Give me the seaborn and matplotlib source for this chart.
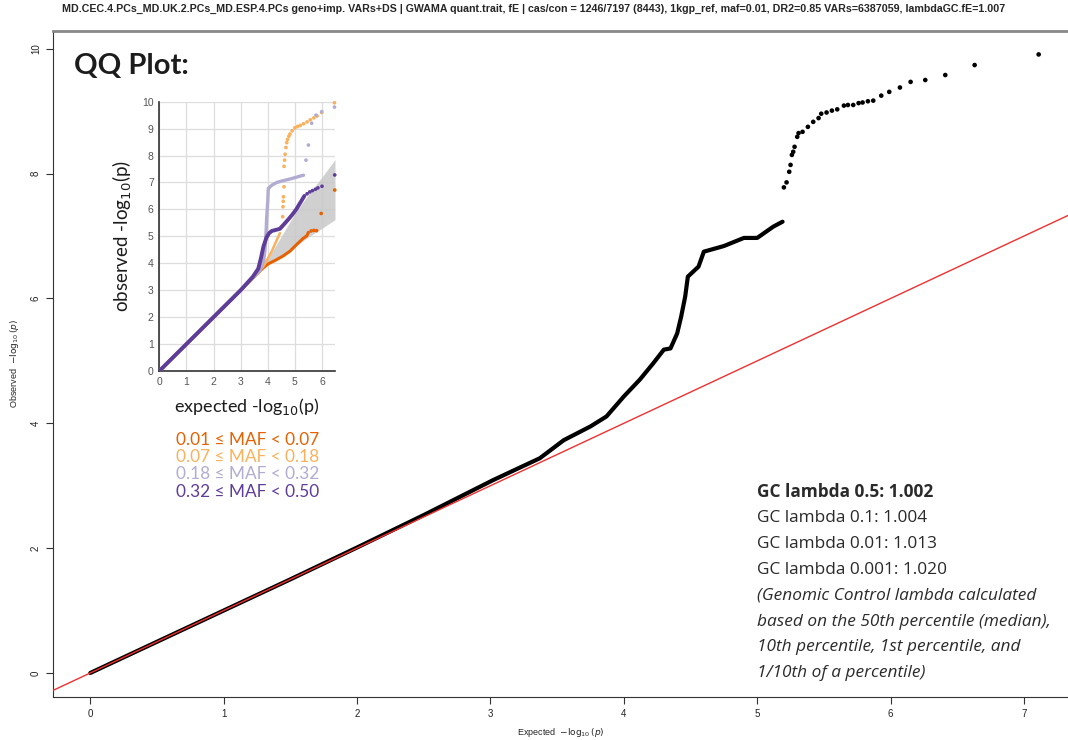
import matplotlib
matplotlib.use("Agg")
import matplotlib.pyplot as plt
import seaborn as sns
import pandas as pd

# main QQ data (expected vs observed -log10 p)
main_exp_dense = [0, 0.5, 1.0, 1.5, 2.0, 2.5, 3.02, 3.37, 3.55, 3.75, 3.87, 4.0, 4.12, 4.22, 4.30,
                  4.35, 4.40, 4.43, 4.46, 4.48, 4.56, 4.60, 4.75, 4.90, 5.0, 5.12, 5.19]
main_obs_dense = [0, 0.5, 1.0, 1.5, 2.01, 2.53, 3.09, 3.44, 3.73, 3.95, 4.11, 4.43, 4.70, 4.96, 5.18,
                  5.20, 5.44, 5.71, 6.03, 6.35, 6.51, 6.75, 6.84, 6.97, 6.97, 7.15, 7.23]
main_exp_tail = [5.20, 5.22, 5.24, 5.25, 5.26, 5.27, 5.28, 5.30, 5.31, 5.34, 5.38, 5.42, 5.46, 5.48,
                 5.52, 5.56, 5.60, 5.65, 5.68, 5.72, 5.76, 5.79, 5.83, 5.87, 5.93, 5.99, 6.07, 6.15,
                 6.26, 6.41, 6.63, 7.11]
main_obs_tail = [7.78, 7.86, 8.03, 8.14, 8.30, 8.35, 8.43, 8.59, 8.65, 8.67, 8.75, 8.83, 8.89, 8.96,
                 8.98, 9.01, 9.03, 9.09, 9.10, 9.10, 9.13, 9.14, 9.16, 9.17, 9.25, 9.31, 9.38, 9.47,
                 9.50, 9.58, 9.74, 9.91]

# inset: QQ by MAF bin
maf_labels = ["0.01 ≤ MAF < 0.07", "0.07 ≤ MAF < 0.18", "0.18 ≤ MAF < 0.32", "0.32 ≤ MAF < 0.50"]
maf_colors = ["#e66101", "#fbb15c", "#b2abd2", "#5e3c99"]

maf1_x = [0, 1, 2, 3, 3.5, 3.8, 4.02, 4.3, 4.58, 4.82, 5.07, 5.3, 5.44, 5.5]
maf1_y = [0, 1, 2, 3, 3.5, 3.8, 3.98, 4.12, 4.28, 4.45, 4.7, 4.92, 5.02, 5.15]
maf1_dx = [5.6, 5.7, 5.8, 5.97, 6.47]
maf1_dy = [5.2, 5.22, 5.21, 5.85, 6.72]

maf2_x = [0, 1, 2, 3, 3.5, 3.85, 4.15, 4.33, 4.45]
maf2_y = [0, 1, 2, 3, 3.5, 3.9, 4.45, 4.86, 5.12]
maf2_dx = [4.5, 4.55, 4.56, 4.57, 4.58, 4.6, 4.6, 4.62, 4.64, 4.67, 4.7, 4.73, 4.78, 4.82, 4.9,
           5.0, 5.1, 5.2, 5.32, 5.45, 5.57, 5.7, 5.82, 5.99, 6.46]
maf2_dy = [5.36, 5.73, 6.1, 6.3, 6.47, 6.84, 7.6, 7.83, 8.05, 8.3, 8.48, 8.6, 8.72, 8.8, 8.92,
           9.03, 9.08, 9.12, 9.18, 9.25, 9.33, 9.4, 9.47, 9.6, 9.96]

maf3_x = [0, 1, 2, 3, 3.5, 3.72, 3.85, 3.9, 3.94, 3.96, 4.0, 4.02, 4.15, 4.33, 4.5, 4.7, 4.9, 5.07, 5.2, 5.32]
maf3_y = [0, 1, 2, 3, 3.52, 3.75, 4.1, 4.5, 5.2, 5.7, 6.3, 6.78, 6.9, 7.0, 7.05, 7.1, 7.15, 7.2, 7.24, 7.27]
maf3_dx = [5.41, 5.5, 5.62, 5.78, 5.99, 6.46]
maf3_dy = [7.83, 8.39, 9.2, 9.5, 9.63, 9.8]

maf4_x = [0, 1, 2, 3, 3.45, 3.65, 3.75, 3.84, 3.95, 4.05, 4.15, 4.3, 4.45, 4.6, 4.75, 4.9, 5.05, 5.2, 5.35]
maf4_y = [0, 1, 2, 3, 3.5, 3.8, 4.2, 4.62, 4.95, 5.12, 5.2, 5.24, 5.28, 5.45, 5.62, 5.8, 6.0, 6.25, 6.5]
maf4_dx = [5.45, 5.55, 5.65, 5.76, 5.85, 6.0, 6.47]
maf4_dy = [6.58, 6.65, 6.7, 6.75, 6.8, 6.86, 7.28]

band_x = [3.9, 4.5, 5.0, 5.5, 6.0, 6.48]
band_lo = [3.9, 4.3, 4.62, 4.98, 5.3, 5.62]
band_hi = [4.0, 5.0, 5.85, 6.55, 7.2, 7.85]

gc_lines = ["GC lambda 0.5: 1.002", "GC lambda 0.1: 1.004", "GC lambda 0.01: 1.013",
            "GC lambda 0.001: 1.020", "(Genomic Control lambda calculated",
            "based on the 50th percentile (median),", "10th percentile, 1st percentile, and",
            "1/10th of a percentile)"]

title = ("MD.CEC.4.PCs_MD.UK.2.PCs_MD.ESP.4.PCs geno+imp. VARs+DS | GWAMA quant.trait, fE | "
         "cas/con = 1246/7197 (8443), 1kgp_ref, maf=0.01, DR2=0.85 VARs=6387059, lambdaGC.fE=1.007")

sns.set_style("ticks")
plt.rcParams["font.family"] = ["Liberation Sans", "DejaVu Sans"]

fig = plt.figure(figsize=(10.68, 7.4), dpi=100)

# ---- main plot ----
ax = fig.add_axes([0.0493, 0.0581, 0.9507, 0.9004])
dense = pd.DataFrame({"exp": main_exp_dense, "obs": main_obs_dense})
tail = pd.DataFrame({"exp": main_exp_tail, "obs": main_obs_tail})
sns.lineplot(data=dense, x="exp", y="obs", sort=False, estimator=None, color="black",
             lw=3.0, solid_capstyle="round", ax=ax)
sns.scatterplot(data=tail, x="exp", y="obs", color="black", s=11, edgecolor="none", ax=ax)
ax.axline((0, 0), slope=1, color="#f03030", lw=1.0, zorder=5)

ax.set_xlim(-0.282, 7.33)
ax.set_ylim(-0.385, 10.29)
ax.set_xticks(range(0, 8))
ax.set_yticks(range(0, 11, 2))
ax.tick_params(labelsize=7, length=5, width=0.8, color="#333", labelcolor="#222")
for lab in ax.get_yticklabels():
    lab.set_rotation(90)
    lab.set_va("center")
ax.set_xlabel(r"Expected  $-\log_{10}(p)$", fontsize=6.5, labelpad=5)
ax.set_ylabel(r"Observed  $-\log_{10}(p)$", fontsize=6.5, labelpad=7)
ax.spines["right"].set_visible(False)
ax.spines["left"].set_color("#333")
ax.spines["bottom"].set_color("#333")
ax.spines["top"].set_color("#888")
ax.spines["top"].set_linewidth(2)

fig.text(0.5, 1 - 9 / 740, title, ha="center", va="center", fontsize=7.7, fontweight="bold",
         family=["Liberation Sans Narrow", "Liberation Sans", "DejaVu Sans"])

fig.text(74 / 1068, 1 - 66 / 740, "QQ Plot:", fontsize=21, color="#1c1c1c",
         va="center", ha="left", family=["Lato", "DejaVu Sans"], fontweight="bold")

# ---- inset ----
axi = fig.add_axes([159.3 / 1068, (740 - 371) / 740, 175.7 / 1068, 269.3 / 740])
axi.fill_between(band_x, band_lo, band_hi, color="#c8c8c8", alpha=0.85, lw=0, zorder=1)
series = [(maf1_x, maf1_y, maf1_dx, maf1_dy, 2.2),
          (maf2_x, maf2_y, maf2_dx, maf2_dy, 1.8),
          (maf3_x, maf3_y, maf3_dx, maf3_dy, 2.4),
          (maf4_x, maf4_y, maf4_dx, maf4_dy, 2.8)]
for (lx, ly, dx, dy, lw), col in zip(series, maf_colors):
    sns.lineplot(x=lx, y=ly, sort=False, estimator=None, color=col, lw=lw, ax=axi, zorder=3)
    sns.scatterplot(x=dx, y=dy, color=col, s=7, edgecolor="none", ax=axi, zorder=3, clip_on=False)
axi.set_xlim(0, 6.48)
axi.set_ylim(0, 10)
axi.set_xticks(range(0, 7))
axi.set_yticks(range(0, 11))
axi.grid(True, color="#dddddd", lw=0.9)
axi.set_axisbelow(True)
axi.tick_params(length=0, labelsize=7.5, labelcolor="#555", pad=4)
for s in ["top", "right"]:
    axi.spines[s].set_visible(False)
for s in ["left", "bottom"]:
    axi.spines[s].set_color("#333")
    axi.spines[s].set_linewidth(1.2)
axi.set_xlabel(r"expected -log$_{10}$(p)", fontsize=13, color="#1c1c1c", labelpad=7,
               family=["Lato", "DejaVu Sans"])
axi.set_ylabel(r"observed -log$_{10}$(p)", fontsize=13.5, color="#1c1c1c", labelpad=6,
               family=["Lato", "DejaVu Sans"])

for i, (lab, col) in enumerate(zip(maf_labels, maf_colors)):
    fig.text(248 / 1068, 1 - (440 + 17.2 * i) / 740, lab, color=col, fontsize=12.4,
             ha="center", va="center", family=["Lato", "DejaVu Sans"])

# ---- GC lambda annotation ----
for i, line in enumerate(gc_lines):
    fig.text(757 / 1068, 1 - (492 + 25.9 * i) / 740, line, fontsize=12.4, color="#2a2a2a",
             ha="left", va="center", family=["Open Sans", "DejaVu Sans"],
             fontweight="bold" if i == 0 else "normal",
             fontstyle="italic" if i >= 4 else "normal")

fig.savefig("out.png", dpi=100)
